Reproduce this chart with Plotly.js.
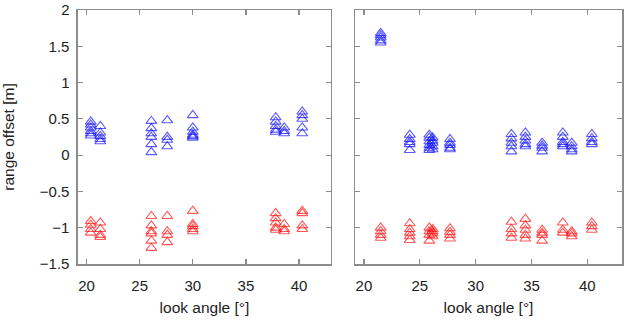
<!DOCTYPE html>
<html><head><meta charset="utf-8">
<script src="https://cdn.plot.ly/plotly-3.0.1.min.js"></script>
<style>html,body{margin:0;padding:0;background:#fff}#chart{width:636px;height:321px}</style>
</head><body><div id="chart"></div>
<script>
// look angles of the acquisitions [deg]
const leftAngles = [20.4, 21.3, 26.1, 27.6, 30.0, 37.8, 38.6, 40.3];
const leftBlue = [
  [0.46, 0.42, 0.38, 0.33, 0.30, 0.27],
  [0.40, 0.31, 0.26, 0.22, 0.19],
  [0.47, 0.37, 0.30, 0.25, 0.15, 0.04],
  [0.48, 0.25, 0.21, 0.12],
  [0.55, 0.38, 0.32, 0.28, 0.26, 0.24],
  [0.52, 0.46, 0.40, 0.35, 0.32],
  [0.38, 0.33, 0.30],
  [0.60, 0.55, 0.50, 0.38, 0.30]
];
const leftRed = [
  [-0.91, -0.96, -1.02, -1.07],
  [-0.93, -1.02, -1.10, -1.13],
  [-0.84, -0.97, -1.05, -1.08, -1.18, -1.28],
  [-0.84, -1.05, -1.10, -1.20],
  [-0.77, -0.95, -0.98, -1.02, -1.05],
  [-0.80, -0.87, -0.93, -1.00, -1.03],
  [-0.95, -1.02, -1.05],
  [-0.77, -0.80, -0.97, -1.02]
];
const rightAngles = [21.5, 24.1, 25.85, 26.15, 27.7, 33.2, 34.45, 35.95, 37.8, 38.6, 40.4];
const rightBlue = [
  [1.68, 1.65, 1.62, 1.58, 1.55],
  [0.28, 0.22, 0.18, 0.15, 0.07],
  [0.28, 0.24, 0.19, 0.14, 0.10, 0.07],
  [0.24, 0.20, 0.17, 0.12, 0.08],
  [0.22, 0.17, 0.14, 0.10, 0.08],
  [0.29, 0.23, 0.17, 0.12, 0.05],
  [0.31, 0.25, 0.20, 0.15, 0.12],
  [0.17, 0.13, 0.10, 0.05],
  [0.31, 0.25, 0.18, 0.15, 0.12],
  [0.17, 0.12, 0.08, 0.05],
  [0.29, 0.23, 0.18, 0.15]
];
const rightRed = [
  [-1.00, -1.05, -1.10, -1.14],
  [-0.94, -1.02, -1.07, -1.12, -1.17],
  [-1.00, -1.05, -1.10, -1.18],
  [-1.02, -1.05, -1.08, -1.12],
  [-1.01, -1.06, -1.10, -1.15],
  [-0.92, -1.02, -1.08, -1.14],
  [-0.88, -0.97, -1.03, -1.10, -1.15],
  [-1.03, -1.07, -1.10, -1.18],
  [-0.93, -1.03, -1.07],
  [-1.05, -1.08, -1.12],
  [-0.93, -0.98, -1.03]
];
const xTicks = [20, 25, 30, 35, 40];
const yTicks = [-1.5, -1, -0.5, 0, 0.5, 1, 1.5, 2];

function flat(angles, groups) {
  const x = [], y = [];
  groups.forEach((g, i) => g.forEach(v => { x.push(angles[i]); y.push(v); }));
  return {x, y};
}
function tr(angles, groups, color, xa, ya) {
  const d = flat(angles, groups);
  return {x: d.x, y: d.y, xaxis: xa, yaxis: ya, type: 'scatter', mode: 'markers',
    showlegend: false, hoverinfo: 'skip',
    marker: {symbol: 'triangle-up-open', size: 9.5, color: color, opacity: 0.65, line: {width: 1.1, color: color}}};
}
const data = [
  tr(leftAngles, leftBlue, '#0000ff', 'x', 'y'),
  tr(leftAngles, leftRed, '#ff0000', 'x', 'y'),
  tr(rightAngles, rightBlue, '#0000ff', 'x2', 'y2'),
  tr(rightAngles, rightRed, '#ff0000', 'x2', 'y2')
];
const tickFont = {family: 'Liberation Sans, Arial, sans-serif', size: 15, color: '#222'};
const titleFont = {family: 'Liberation Sans, Arial, sans-serif', size: 15.5, color: '#222'};
const axBase = {showgrid: false, zeroline: false, showline: true, linecolor: '#8c8c8c', linewidth: 1.5,
  mirror: 'ticks', ticks: 'inside', ticklen: 5, tickcolor: '#8c8c8c', tickwidth: 1.2, tickfont: tickFont};
const layout = {
  width: 636, height: 321, margin: {l: 0, r: 0, t: 10, b: 57},
  paper_bgcolor: '#fff', plot_bgcolor: '#fff', font: tickFont,
  xaxis: Object.assign({}, axBase, {domain: [0.1226, 0.5204], range: [19.2, 43.0], tickvals: xTicks, anchor: 'y',
    ticklabelstandoff: 7, title: {text: 'look angle [°]', font: titleFont, standoff: 9}}),
  yaxis: Object.assign({}, axBase, {domain: [0, 1], range: [-1.5, 2], tickvals: yTicks, anchor: 'x',
    ticklabelstandoff: 4, title: {text: 'range offset [m]', font: titleFont, standoff: 30}}),
  xaxis2: Object.assign({}, axBase, {domain: [0.5582, 0.978], range: [19.2, 43.1], tickvals: xTicks, anchor: 'y2',
    ticklabelstandoff: 7, title: {text: 'look angle [°]', font: titleFont, standoff: 9}}),
  yaxis2: Object.assign({}, axBase, {domain: [0, 1], range: [-1.5, 2], tickvals: yTicks, anchor: 'x2', showticklabels: false})
};
Plotly.newPlot('chart', data, layout, {staticPlot: true, displayModeBar: false});
</script></body></html>
